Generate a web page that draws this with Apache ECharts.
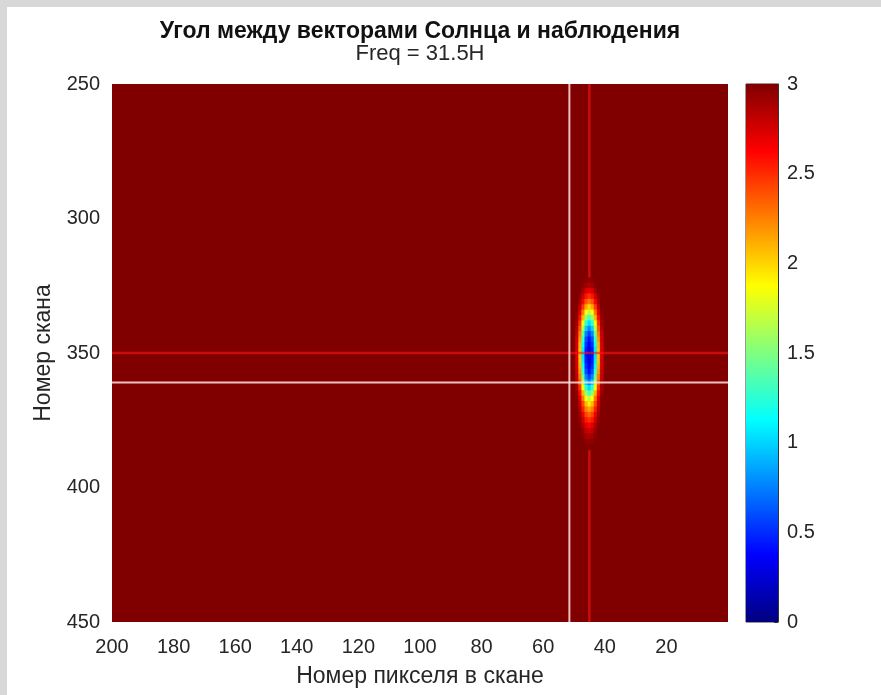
<!DOCTYPE html>
<html>
<head>
<meta charset="utf-8">
<script src="https://cdn.jsdelivr.net/npm/echarts@6/dist/echarts.min.js"></script>
<style>
  html, body { margin: 0; padding: 0; background: #fff; }
  #chart { position: absolute; left: 0; top: 0; width: 881px; height: 695px; }
  .edge { position: absolute; background: #d8d8d8; z-index: 2; }
  #edgeTop { left: 0; top: 0; width: 881px; height: 7px; }
  #edgeLeft { left: 0; top: 0; width: 7px; height: 695px; }
</style>
</head>
<body>
<div id="chart"></div>
<div class="edge" id="edgeTop"></div>
<div class="edge" id="edgeLeft"></div>
<script>
// Texts
const titleText = 'Угол между векторами Солнца и наблюдения';
const subtitleText = 'Freq = 31.5H';
const pixelAxisName = 'Номер пикселя в скане';
const scanAxisName = 'Номер скана';

// Axis ranges and tick steps
const pixelRange = [0, 200];
const scanRange = [250, 450];
const angleRange = [0, 3];
const pixelTickStep = 20;
const scanTickStep = 50;
const angleTickStep = 0.5;

// Jet colour map, evenly spaced from the low to the high end
const jetColors = ['#000080', '#0000ff', '#0080ff', '#00ffff', '#80ff80',
                   '#ffff00', '#ff8000', '#ff0000', '#800000'];

// Angle field: constant level outside the glint spot
const backgroundAngle = 3;

// Glint spot: pixel columns and scan lines (each value covers two scan lines)
const blobPixels = [49, 48, 47, 46, 45, 44, 43, 42, 41];
const blobScans = [323, 325, 327, 329, 331, 333, 335, 337, 339, 341, 343, 345, 347, 349, 351,
                   353, 355, 357, 359, 361, 363, 365, 367, 369, 371, 373, 375, 377, 379, 381, 383, 385];
const blobAngle = [
  [3.00, 3.00, 3.00, 2.97, 2.95, 2.97, 3.00, 3.00, 3.00],
  [3.00, 3.00, 2.97, 2.90, 2.86, 2.90, 2.97, 3.00, 3.00],
  [3.00, 2.99, 2.89, 2.74, 2.68, 2.74, 2.89, 2.99, 3.00],
  [3.00, 2.95, 2.77, 2.57, 2.48, 2.57, 2.77, 2.95, 3.00],
  [3.00, 2.90, 2.63, 2.37, 2.26, 2.37, 2.63, 2.90, 3.00],
  [3.00, 2.80, 2.46, 2.14, 2.00, 2.14, 2.46, 2.80, 3.00],
  [2.97, 2.71, 2.27, 1.86, 1.67, 1.86, 2.27, 2.71, 2.97],
  [2.94, 2.59, 2.08, 1.55, 1.35, 1.55, 2.08, 2.59, 2.94],
  [2.90, 2.47, 1.86, 1.26, 1.02, 1.26, 1.86, 2.47, 2.90],
  [2.85, 2.36, 1.64, 0.99, 0.76, 0.99, 1.64, 2.36, 2.85],
  [2.80, 2.25, 1.44, 0.77, 0.56, 0.77, 1.44, 2.25, 2.80],
  [2.77, 2.17, 1.28, 0.61, 0.42, 0.61, 1.28, 2.17, 2.77],
  [2.74, 2.10, 1.16, 0.51, 0.34, 0.51, 1.16, 2.10, 2.74],
  [2.73, 2.06, 1.08, 0.44, 0.28, 0.44, 1.08, 2.06, 2.73],
  [2.72, 2.05, 1.05, 0.42, 0.25, 0.42, 1.05, 2.05, 2.72],
  [2.73, 2.06, 1.08, 0.44, 0.28, 0.44, 1.08, 2.06, 2.73],
  [2.74, 2.10, 1.16, 0.51, 0.34, 0.51, 1.16, 2.10, 2.74],
  [2.77, 2.17, 1.28, 0.61, 0.42, 0.61, 1.28, 2.17, 2.77],
  [2.80, 2.25, 1.44, 0.77, 0.56, 0.77, 1.44, 2.25, 2.80],
  [2.85, 2.36, 1.64, 0.99, 0.76, 0.99, 1.64, 2.36, 2.85],
  [2.90, 2.47, 1.86, 1.26, 1.02, 1.26, 1.86, 2.47, 2.90],
  [2.94, 2.59, 2.08, 1.55, 1.35, 1.55, 2.08, 2.59, 2.94],
  [2.97, 2.71, 2.27, 1.86, 1.67, 1.86, 2.27, 2.71, 2.97],
  [2.99, 2.78, 2.42, 2.08, 1.92, 2.08, 2.42, 2.78, 2.99],
  [3.00, 2.85, 2.54, 2.25, 2.13, 2.25, 2.54, 2.85, 3.00],
  [3.00, 2.92, 2.67, 2.42, 2.32, 2.42, 2.67, 2.92, 3.00],
  [3.00, 2.95, 2.77, 2.56, 2.48, 2.56, 2.77, 2.95, 3.00],
  [3.00, 2.98, 2.86, 2.71, 2.63, 2.71, 2.86, 2.98, 3.00],
  [3.00, 3.00, 2.93, 2.81, 2.76, 2.81, 2.93, 3.00, 3.00],
  [3.00, 3.00, 2.97, 2.90, 2.86, 2.90, 2.97, 3.00, 3.00],
  [3.00, 3.00, 3.00, 2.96, 2.94, 2.96, 3.00, 3.00, 3.00],
  [3.00, 3.00, 3.00, 3.00, 2.98, 3.00, 3.00, 3.00, 3.00]
];

// Marker lines: spot position (red) and selected pixel / scan (white)
const spotPixel = 45;
const spotScan = 350;
const selectedPixel = 51.5;
const selectedScan = 361;

// Cells as [pixelFrom, pixelTo, scanFrom, scanTo, angle]
const backgroundCells = [[pixelRange[0], pixelRange[1], scanRange[0], scanRange[1], backgroundAngle]];
const blobCells = [];
blobScans.forEach((scan, i) => {
  blobPixels.forEach((pixel, j) => {
    blobCells.push([pixel - 0.5, pixel + 0.5, scan - 1, scan + 1, blobAngle[i][j]]);
  });
});

const FONT = '"Liberation Sans", Arial, Helvetica, sans-serif';
const TEXT_COLOR = '#262626';
const TICK_SIZE = 20;
const LABEL_SIZE = 23;

function renderCell(params, api) {
  const a = api.coord([api.value(0), api.value(2)]);
  const b = api.coord([api.value(1), api.value(3)]);
  const cs = params.coordSys;
  const shape = echarts.graphic.clipRectByRect({
    x: Math.min(a[0], b[0]) - 0.3,
    y: Math.min(a[1], b[1]) - 0.3,
    width: Math.abs(b[0] - a[0]) + 0.6,
    height: Math.abs(b[1] - a[1]) + 0.6
  }, { x: cs.x, y: cs.y, width: cs.width, height: cs.height });
  return shape && { type: 'rect', shape: shape, style: { fill: api.visual('color') } };
}

function verticalLine(pixel) {
  return [[pixel, scanRange[0]], [pixel, scanRange[1]]];
}
function horizontalLine(scan) {
  return [[pixelRange[0], scan], [pixelRange[1], scan]];
}
function markerSeries(data, color, width, z) {
  return {
    type: 'line', xAxisIndex: 0, yAxisIndex: 0, data: data,
    showSymbol: false, symbol: 'none', silent: true, z: z,
    lineStyle: { color: color, width: width }
  };
}

const chart = echarts.init(document.getElementById('chart'), null, { renderer: 'canvas' });

const colorbarGradient = new echarts.graphic.LinearGradient(0, 1, 0, 0,
  jetColors.map((c, i) => ({ offset: i / (jetColors.length - 1), color: c })));

chart.setOption({
  animation: false,
  backgroundColor: '#ffffff',
  textStyle: { fontFamily: FONT },
  graphic: [
    { type: 'text', x: 420, y: 32, style: { text: titleText, align: 'center', verticalAlign: 'middle',
      fontFamily: FONT, fontSize: 23, fontWeight: 'bold', fill: '#111' } },
    { type: 'text', x: 420, y: 54, style: { text: subtitleText, align: 'center', verticalAlign: 'middle',
      fontFamily: FONT, fontSize: 22, fill: TEXT_COLOR } }
  ],
  grid: [
    { left: 112, top: 84, width: 616, height: 538, containLabel: false },
    { left: 746, top: 84, width: 32, height: 538, containLabel: false,
      show: true, borderColor: '#333', borderWidth: 1, backgroundColor: 'transparent' }
  ],
  visualMap: {
    type: 'continuous', show: false, min: angleRange[0], max: angleRange[1],
    dimension: 4, seriesIndex: [0, 1], inRange: { color: jetColors }
  },
  xAxis: [
    {
      type: 'value', gridIndex: 0, min: pixelRange[0], max: pixelRange[1], interval: pixelTickStep,
      inverse: true, name: pixelAxisName, nameLocation: 'middle', nameGap: 43,
      nameTextStyle: { fontSize: LABEL_SIZE, color: TEXT_COLOR, fontFamily: FONT },
      axisLine: { show: false }, axisTick: { show: false }, splitLine: { show: false },
      axisLabel: { fontSize: TICK_SIZE, color: TEXT_COLOR, margin: 15, fontFamily: FONT,
        formatter: v => (v === pixelRange[0] ? '' : String(v)) }
    },
    {
      type: 'category', gridIndex: 1, data: ['angle'], show: false
    }
  ],
  yAxis: [
    {
      type: 'value', gridIndex: 0, min: scanRange[0], max: scanRange[1], interval: scanTickStep,
      inverse: true, name: scanAxisName, nameLocation: 'middle', nameGap: 57, nameRotate: 90,
      nameTextStyle: { fontSize: LABEL_SIZE, color: TEXT_COLOR, fontFamily: FONT },
      axisLine: { show: false }, axisTick: { show: false }, splitLine: { show: false },
      axisLabel: { fontSize: TICK_SIZE, color: TEXT_COLOR, margin: 12, fontFamily: FONT }
    },
    {
      type: 'value', gridIndex: 1, position: 'right', min: angleRange[0], max: angleRange[1],
      interval: angleTickStep,
      axisLine: { show: true, lineStyle: { color: '#333', width: 1 } },
      axisTick: { show: true, inside: true, length: 4, lineStyle: { color: '#333' } },
      splitLine: { show: false },
      axisLabel: { fontSize: TICK_SIZE, color: TEXT_COLOR, margin: 9, fontFamily: FONT }
    }
  ],
  series: [
    {
      type: 'custom', name: 'background', xAxisIndex: 0, yAxisIndex: 0, z: 1,
      renderItem: renderCell, encode: { x: [0, 1], y: [2, 3] }, data: backgroundCells, silent: true
    },
    {
      type: 'custom', name: 'spot', xAxisIndex: 0, yAxisIndex: 0, z: 3,
      renderItem: renderCell, encode: { x: [0, 1], y: [2, 3] }, data: blobCells, silent: true
    },
    markerSeries(verticalLine(spotPixel), 'rgba(255,20,20,0.6)', 2.5, 2),
    markerSeries(horizontalLine(spotScan), 'rgba(255,20,20,0.6)', 2.5, 4),
    markerSeries(verticalLine(selectedPixel), 'rgba(255,225,225,0.85)', 2, 5),
    markerSeries(horizontalLine(selectedScan), 'rgba(255,225,225,0.85)', 2, 5),
    {
      type: 'bar', xAxisIndex: 1, yAxisIndex: 1, data: [angleRange[1]], barWidth: '100%',
      itemStyle: { color: colorbarGradient }, silent: true, z: 1
    }
  ]
});
</script>
</body>
</html>
